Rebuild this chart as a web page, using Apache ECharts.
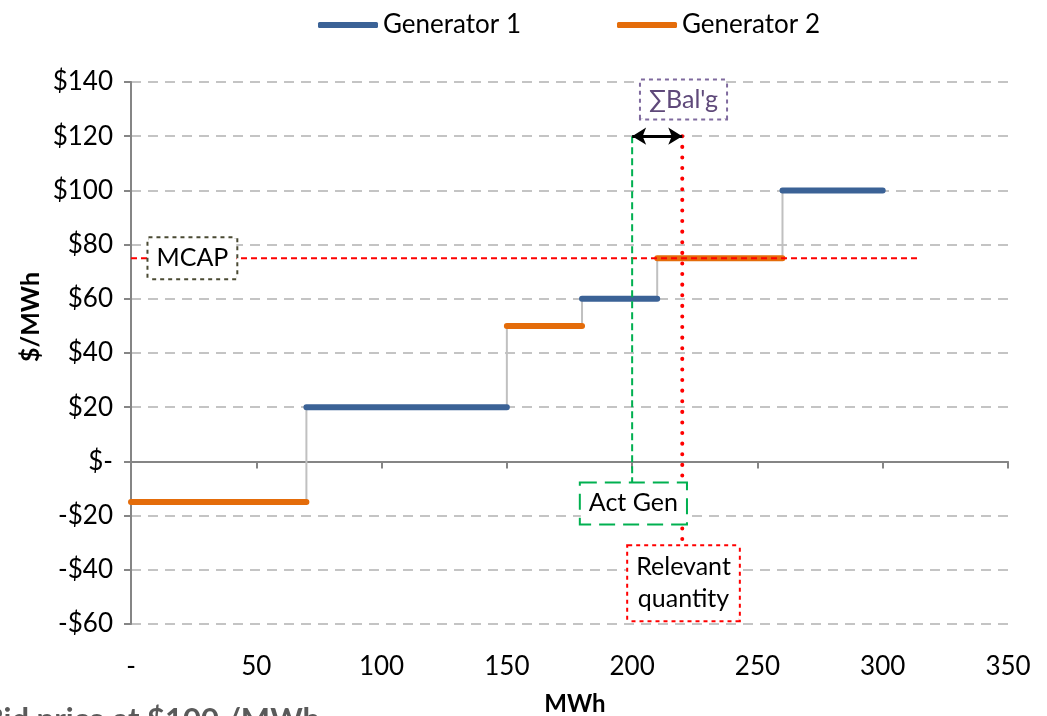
<!DOCTYPE html>
<html>
<head>
<meta charset="utf-8">
<script src="https://cdn.jsdelivr.net/npm/echarts@6/dist/echarts.min.js"></script>
<style>
  html, body { margin: 0; padding: 0; background: #fff; }
  #chart { width: 1047px; height: 716px; }
</style>
</head>
<body>
<div id="chart"></div>
<script>
// Offer steps: [from MWh, to MWh, price $/MWh]
const gen1Steps = [[70, 150, 20], [180, 210, 60], [260, 300, 100]];
const gen2Steps = [[0, 70, -15], [150, 180, 50], [210, 260, 75]];
// Risers joining consecutive steps: [MWh, lower price, upper price]
const risers = [[70, -15, 20], [150, 20, 50], [180, 50, 60], [210, 60, 75], [260, 75, 100]];
const seriesNames = ['Generator 1', 'Generator 2'];

const xTicks = [0, 50, 100, 150, 200, 250, 300, 350];
const yTicks = [-60, -40, -20, 0, 20, 40, 60, 80, 100, 120, 140];

const mcap = 75;            // market clearing price
const mcapRange = [0, 314]; // extent of the price line
const actGen = 200;         // actual generation
const relevantQty = 220;    // relevant quantity
const balTop = 120;         // level of the balancing arrow

const FONT = 'Lato, "Open Sans", sans-serif';
const BLUE = '#3b6296';
const ORANGE = '#e46c0a';

function stepData(steps) {
  const out = [];
  steps.forEach((s, i) => {
    if (i > 0) out.push([s[0], '-']);
    out.push([s[0], s[2]], [s[1], s[2]]);
  });
  return out;
}
function riserData(list) {
  const out = [];
  list.forEach((r, i) => {
    if (i > 0) out.push([r[0], '-']);
    out.push([r[0], r[1]], [r[0], r[2]]);
  });
  return out;
}
const fmtPrice = v => v === 0 ? '$-' : (v < 0 ? '-$' + (-v) : '$' + v);
const fmtQty = v => v === 0 ? '-' : String(v);

const boxLabel = (border, type, color, pad) => ({
  show: true, position: 'inside', fontFamily: FONT, fontSize: 25, color: color, opacity: 1,
  backgroundColor: '#fff', borderColor: border, borderWidth: 2, borderType: type,
  padding: pad, lineHeight: 32, formatter: p => p.name
});

const chart = echarts.init(document.getElementById('chart'), null, { renderer: 'canvas' });
chart.setOption({
  animation: false,
  legend: {
    top: 7, left: 313, itemWidth: 60, itemHeight: 6, itemGap: 96,
    data: seriesNames.map(n => ({ name: n, icon: 'roundRect' })),
    textStyle: { fontFamily: FONT, fontSize: 26, color: '#000' }
  },
  grid: { left: 131, right: 39, top: 82, bottom: 92 },
  xAxis: [{
    type: 'value', min: 0, max: 350, interval: 50,
    axisLine: { show: false, onZero: false }, axisTick: { show: false },
    splitLine: { show: false },
    axisLabel: { fontFamily: FONT, fontSize: 26, color: '#000', margin: 30, formatter: fmtQty }
  }, {
    type: 'value', min: 0, max: 350, interval: 50, position: 'bottom',
    axisLine: { show: true, onZero: true, lineStyle: { color: '#858585', width: 2 } },
    axisTick: { show: true, length: 7, lineStyle: { color: '#858585', width: 2 } },
    axisLabel: { show: false }, splitLine: { show: false }
  }],
  yAxis: {
    type: 'value', min: -60, max: 140, interval: 20,
    axisLine: { show: true, lineStyle: { color: '#858585', width: 2 } },
    axisTick: { show: true, length: 7, lineStyle: { color: '#858585', width: 2 } },
    axisLabel: { fontFamily: FONT, fontSize: 26, color: '#000', margin: 18, formatter: fmtPrice },
    splitLine: { show: true, lineStyle: { color: '#c4c4c4', width: 2, type: [10, 7] } }
  },
  graphic: [{
    type: 'text', rotation: Math.PI / 2, x: 31, y: 317,
    style: { text: '$/MWh', font: 'bold 25px ' + FONT, fill: '#000', textAlign: 'center', textVerticalAlign: 'middle' }
  }, {
    type: 'text', x: 575, y: 704,
    style: { text: 'MWh', font: 'bold 24px ' + FONT, fill: '#000', textAlign: 'center', textVerticalAlign: 'middle' }
  }, {
    type: 'text', x: 320, y: 704,
    style: { text: 'Bid price at $100 /MWh', font: 'bold 31px ' + FONT, fill: '#5a5a5a', textAlign: 'right', textVerticalAlign: 'top' }
  }],
  series: [{
    name: 'risers', type: 'line', data: riserData(risers), symbol: 'none', silent: true,
    lineStyle: { color: '#c0c0c0', width: 2 }, z: 2
  }, {
    name: seriesNames[0], type: 'line', data: stepData(gen1Steps), symbol: 'none', connectNulls: false,
    color: BLUE, lineStyle: { color: BLUE, width: 6, cap: 'round' }, z: 3
  }, {
    name: seriesNames[1], type: 'line', data: stepData(gen2Steps), symbol: 'none', connectNulls: false,
    color: ORANGE, lineStyle: { color: ORANGE, width: 6, cap: 'round' }, z: 3
  }, {
    name: 'mcap', type: 'line', data: [[mcapRange[0], mcap], [mcapRange[1], mcap]], symbol: 'none', silent: true,
    lineStyle: { color: '#ff0000', width: 2, type: [6, 4] }, z: 4
  }, {
    name: 'actgen', type: 'line', data: [[actGen, balTop], [actGen, -8]], symbol: 'none', silent: true,
    lineStyle: { color: '#00b050', width: 2, type: [7, 4] }, z: 4
  }, {
    name: 'relqty', type: 'line', data: [[relevantQty, balTop], [relevantQty, -31]], symbol: 'none', silent: true,
    lineStyle: { color: '#ff0000', width: 4, type: [0.1, 10.5], cap: 'round' }, z: 4,
    markLine: {
      silent: true, symbol: ['arrow', 'arrow'], symbolSize: [13, 14],
      lineStyle: { color: '#000', width: 3, type: 'solid' }, label: { show: false },
      data: [[{ coord: [actGen, balTop] }, { coord: [relevantQty, balTop] }]]
    }
  }, {
    name: 'labels', type: 'scatter', symbolSize: 0, silent: true, z: 10,
    itemStyle: { opacity: 1 },
    data: [
      { value: [24.5, mcap], name: 'MCAP', label: boxLabel('#4a4a33', 'dotted', '#000', [5, 8, 3, 8]) },
      { value: [200.5, -15.5], name: 'Act Gen', label: boxLabel('#00b050', 'dashed', '#000', [5, 8, 3, 8]) },
      { value: [220.5, -45], name: 'Relevant\nquantity', label: boxLabel('#ff0000', 'dotted', '#000', [6, 8, 4, 8]) },
      { value: [220.5, 133.5], name: '∑Bal\'g', label: boxLabel('#7f6a9e', 'dotted', '#5f497a', [4, 8, 2, 8]) }
    ]
  }]
});
</script>
</body>
</html>
